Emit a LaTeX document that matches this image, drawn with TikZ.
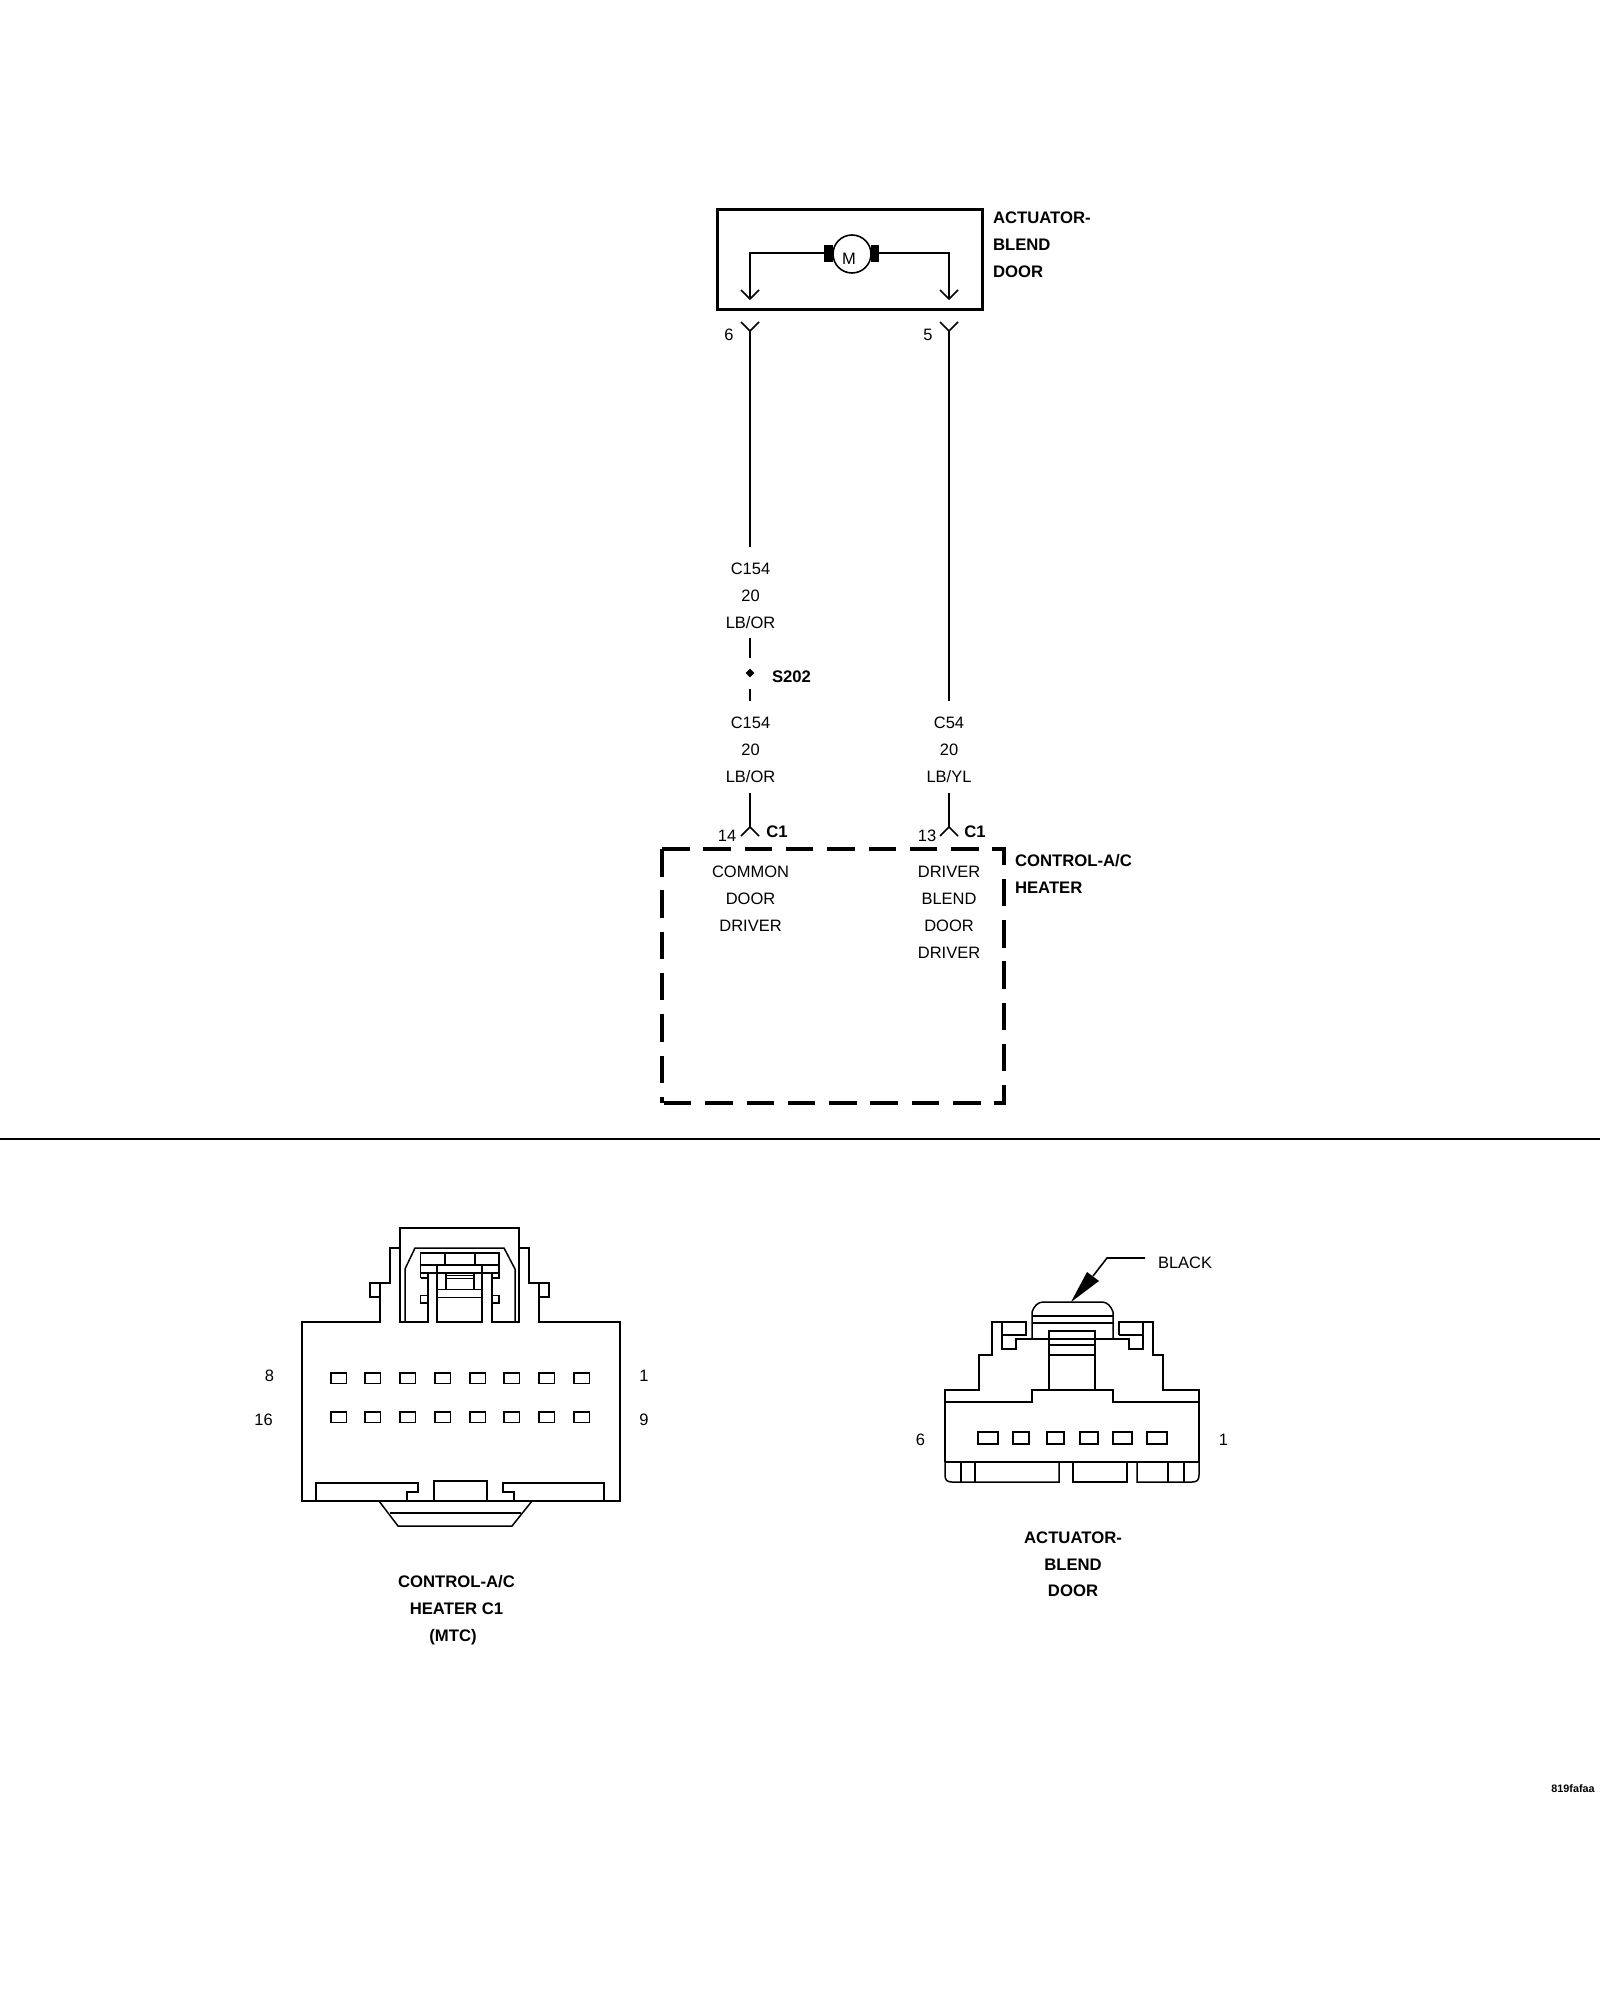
\documentclass[tikz,border=0pt]{standalone}
\usepackage{fontspec}
\usetikzlibrary{shapes.geometric}
\setmainfont{Liberation Sans}
\tikzset{
  ln/.style={line width=0.75pt,line cap=butt,line join=miter},
  wire/.style={line width=0.8pt},
  txt/.style={inner sep=0pt,outer sep=0pt,yshift=-0.4pt,font=\fontsize{8.25}{10}\selectfont,text height=5.9pt,text depth=0pt},
  btxt/.style={txt,font=\fontsize{8.35}{10}\selectfont\bfseries},
  dbox/.style={line width=1.6pt,dash pattern=on 13.75pt off 6.9pt},
}
\begin{document}
\begin{tikzpicture}[x=0.5pt,y=-0.5pt]
\useasboundingbox (0,0) rectangle (1600,2000);
% ---------- actuator box
\node[draw,line width=1.6pt,minimum width=132.6pt,minimum height=50.1pt,inner sep=0pt] (act) at (850,259.5) {};
\node[btxt,anchor=west] (a1) at (993,217) {ACTUATOR-};
\node[btxt,anchor=west] (a2) at (993,244) {BLEND};
\node[btxt,anchor=west] (a3) at (993,271) {DOOR};
% motor
\fill (824,245) rectangle (833,262);
\fill (871,245) rectangle (879,262);
\node[circle,draw,fill=white,line width=0.8pt,minimum size=19pt,inner sep=0pt] (mot) at (852,254) {};
\node[txt] (mtxt) at (849,258) {M};
\coordinate (ml) at (824,253);
\coordinate (mr) at (879,253);
\coordinate (al) at (750,299);
\coordinate (ar) at (949,299);
\draw[wire] (ml) -| (al);
\draw[wire] (mr) -| (ar);
\draw[wire] (741,290) -- (al) -- (759,290);
\draw[wire] (940,290) -- (ar) -- (958,290);
% ---------- wires
\coordinate (y6) at (750,331);
\coordinate (y5) at (949,331);
\draw[wire] (741,322) -- (y6) -- (759,322);
\draw[wire] (940,322) -- (y5) -- (958,322);
\node[txt] (n6) at (729,333.5) {6};
\node[txt] (n5) at (928,333.5) {5};
\coordinate (w6b) at (750,547);
\coordinate (w5b) at (949,701);
\draw[wire] (y6) -- (w6b);
\draw[wire] (y5) -- (w5b);
\node[txt] (c1a) at (750.5,568) {C154};
\node[txt] (c1b) at (750.5,595) {20};
\node[txt] (c1c) at (750.5,622) {LB/OR};
\coordinate (d1a) at (750,638);
\coordinate (d1b) at (750,658);
\coordinate (d2a) at (750,689);
\coordinate (d2b) at (750,701);
\draw[wire] (d1a) -- (d1b);
\draw[wire] (d2a) -- (d2b);
\node[diamond,fill=black,inner sep=0pt,minimum size=4.6pt] (spl) at (750,673) {};
\node[btxt,anchor=west] (s202) at (772,676) {S202};
\node[txt] (c2a) at (750.5,722) {C154};
\node[txt] (c2b) at (750.5,749) {20};
\node[txt] (c2c) at (750.5,776) {LB/OR};
\node[txt] (c3a) at (949,722) {C54};
\node[txt] (c3b) at (949,749) {20};
\node[txt] (c3c) at (949,776) {LB/YL};
\coordinate (l14t) at (750,793);
\coordinate (l14) at (750,827);
\coordinate (l13t) at (949,793);
\coordinate (l13) at (949,827);
\draw[wire] (l14t) -- (l14);
\draw[wire] (l13t) -- (l13);
\draw[wire] (741,836) -- (l14) -- (759,836);
\draw[wire] (940,836) -- (l13) -- (958,836);
\node[txt] (n14) at (727,835) {14};
\node[txt] (n13) at (927,835) {13};
\node[btxt] (cc1) at (777,831) {C1};
\node[btxt] (cc2) at (975,831) {C1};
% ---------- dashed box
\draw[dbox] (662,849) -- (1004,849) -- (1004,1103) -- (662,1103);
\draw[dbox] (662,849) -- (662,1103);
\node[txt] (t1) at (750.5,871) {COMMON};
\node[txt] (t2) at (750.5,898) {DOOR};
\node[txt] (t3) at (750.5,925) {DRIVER};
\node[txt] (t4) at (949,871) {DRIVER};
\node[txt] (t5) at (949,898) {BLEND};
\node[txt] (t6) at (949,925) {DOOR};
\node[txt] (t7) at (949,952) {DRIVER};
\node[btxt,anchor=west] (h1) at (1015,860) {CONTROL-A/C};
\node[btxt,anchor=west] (h2) at (1015,887) {HEATER};
% ---------- divider
\draw[line width=1pt] (0,1138.5) -- (1600,1138.5);
% ---------- connector C1
\draw[ln] (380,1322) -- (302,1322) -- (302,1501) -- (620,1501) -- (620,1322) -- (539,1322)
  -- (539,1283) -- (529,1283) -- (529,1248) -- (519,1248) -- (519,1228) -- (400,1228)
  -- (400,1248) -- (390,1248) -- (390,1283) -- (380,1283) -- cycle;
\draw[ln] (380,1283) -- (370,1283) -- (370,1297) -- (380,1297);
\draw[ln] (539,1283) -- (549,1283) -- (549,1297) -- (539,1297);
\draw[ln] (400,1248) -- (400,1322) -- (428,1322) -- (428,1273);
\draw[ln] (519,1248) -- (519,1322) -- (492,1322) -- (492,1273);
\draw[ln] (405,1322) -- (405,1269) -- (415,1248) -- (504,1248) -- (515,1269) -- (515,1322);
\draw[ln] (437,1265) -- (437,1322) -- (482,1322) -- (482,1265);
\draw[ln] (420.5,1278) -- (420.5,1253) -- (499,1253) -- (499,1278) -- (492,1278);
\draw[ln] (420.5,1278) -- (428,1278);
\draw[ln] (420.5,1265) -- (499,1265);
\draw[ln] (420.5,1273) -- (499,1273);
\draw[ln] (445,1253) -- (445,1265);
\draw[ln] (475,1253) -- (475,1265);
\draw[ln] (446,1273) -- (446,1289.5);
\draw[ln] (474,1273) -- (474,1289.5);
\draw[ln] (446,1275.5) -- (474,1275.5);
\draw[ln] (446,1278.5) -- (474,1278.5);
\draw[ln] (437,1289.5) -- (482,1289.5);
\draw[ln] (437,1297.5) -- (482,1297.5);
\draw[ln] (428,1295.5) -- (420.5,1295.5) -- (420.5,1303) -- (428,1303);
\draw[ln] (492,1295.5) -- (499,1295.5) -- (499,1303) -- (492,1303);
\foreach \px in {331,365,400,435,470,504,539,574}{
  \draw[ln] (\px,1373) rectangle ++(15.5,10.5);
  \draw[ln] (\px,1412) rectangle ++(15.5,10.5);
}
\draw[ln] (316,1501) -- (316,1483) -- (418,1483) -- (418,1492) -- (407,1492) -- (407,1501);
\draw[ln] (434,1501) -- (434,1481) -- (487,1481) -- (487,1501);
\draw[ln] (514,1501) -- (514,1492) -- (503,1492) -- (503,1483) -- (604,1483) -- (604,1501);
\draw[ln] (379,1501) -- (398,1526) -- (512,1526) -- (532,1501);
\draw[ln] (390,1513) -- (521,1513);
\node[txt] (p8) at (269.5,1375) {8};
\node[txt] (p1) at (644,1375) {1};
\node[txt] (p16) at (263.5,1418.5) {16};
\node[txt] (p9) at (644,1418.5) {9};
\node[btxt] (l1) at (456.5,1581) {CONTROL-A/C};
\node[btxt] (l2) at (456.5,1608) {HEATER C1};
\node[btxt] (l3) at (453,1635) {(MTC)};
% ---------- connector actuator
\draw[ln] (945,1462) -- (945,1475) .. controls (945,1480) and (947,1482) .. (952,1482) -- (1059,1482) -- (1059,1462);
\draw[ln] (945,1462) -- (945,1390) -- (979,1390) -- (979,1355) -- (992,1355) -- (992,1322) -- (1026,1322) -- (1026,1335) -- (1002,1335);
\draw[ln] (1002,1322) -- (1002,1349) -- (1016,1349) -- (1016,1339) -- (1129,1339) -- (1129,1349) -- (1143,1349) -- (1143,1322);
\draw[ln] (1119,1335) -- (1143,1335);
\draw[ln] (1119,1335) -- (1119,1322) -- (1153,1322) -- (1153,1355) -- (1163,1355) -- (1163,1390) -- (1199,1390) -- (1199,1462);
\draw[ln] (1137,1462) -- (1137,1482) -- (1192,1482) .. controls (1197,1482) and (1199,1480) .. (1199,1475) -- (1199,1462);
\draw[ln] (1073,1462) -- (1073,1482) -- (1127,1482) -- (1127,1462);
\draw[ln] (945,1462) -- (1199,1462);
\draw[ln] (945,1402) -- (1032,1402) -- (1032,1390) -- (1113,1390) -- (1113,1402) -- (1199,1402);
\draw[ln] (961,1462) -- (961,1482);
\draw[ln] (975,1462) -- (975,1482);
\draw[ln] (1168,1462) -- (1168,1482);
\draw[ln] (1184,1462) -- (1184,1482);
\draw[ln] (1032,1339) -- (1032,1312) .. controls (1034,1306) and (1038,1302) .. (1043,1302) -- (1102,1302) .. controls (1107,1302) and (1111,1306) .. (1113,1312) -- (1113,1339);
\draw[ln] (1032,1316) -- (1113,1316);
\draw[ln] (1032,1323) -- (1113,1323);
\draw[ln] (1049,1390) -- (1049,1331) -- (1095,1331) -- (1095,1390);
\draw[ln] (1049,1345) -- (1095,1345);
\draw[ln] (1049,1355) -- (1095,1355);
\draw[ln] (978,1432) rectangle (998,1444);
\draw[ln] (1013,1432) rectangle (1029,1444);
\draw[ln] (1047,1432) rectangle (1064,1444);
\draw[ln] (1080,1432) rectangle (1098,1444);
\draw[ln] (1113,1432) rectangle (1132,1444);
\draw[ln] (1147,1432) rectangle (1167,1444);
\fill (1071,1302) -- (1087,1272) -- (1099,1281) -- cycle;
\node[txt,anchor=west] (blk) at (1158,1262) {BLACK};
\coordinate (bk1) at (1093,1276);
\coordinate (bk2) at (1107,1258);
\coordinate (bk3) at (1145,1258);
\draw[wire] (bk1) -- (bk2) -- (bk3);
\node[txt] (q6) at (920.5,1439) {6};
\node[txt] (q1) at (1223.5,1439) {1};
\node[btxt] (m1) at (1073,1537) {ACTUATOR-};
\node[btxt] (m2) at (1073,1564) {BLEND};
\node[btxt] (m3) at (1073,1590) {DOOR};
\node[inner sep=0pt,font=\fontsize{5.4}{6}\selectfont\bfseries,anchor=east] (code) at (1595,1789) {819fafaa};
\end{tikzpicture}
\end{document}
